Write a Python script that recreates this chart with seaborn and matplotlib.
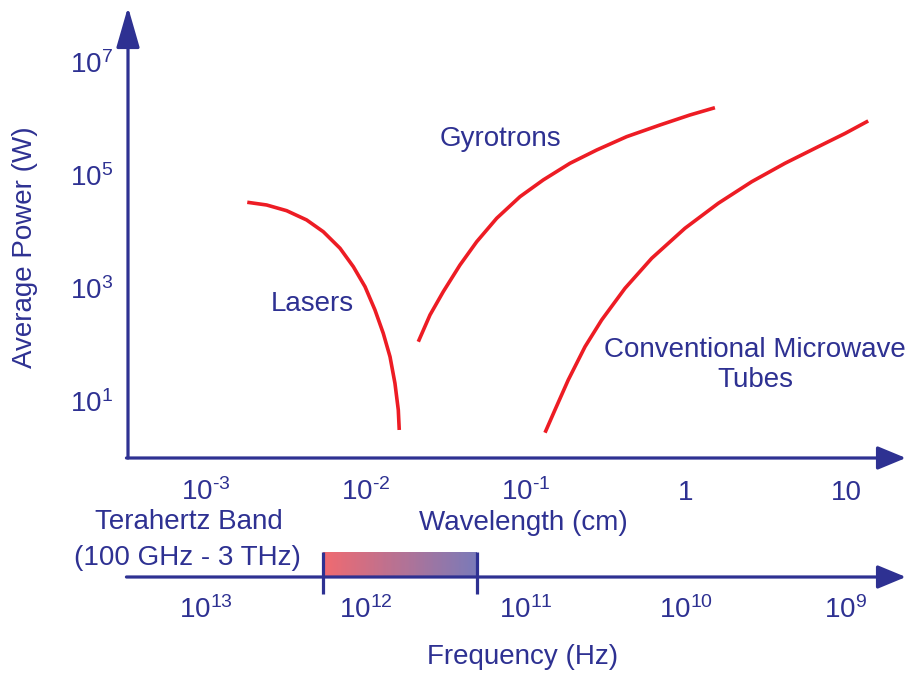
import numpy as np
import pandas as pd
import matplotlib
matplotlib.use('Agg')
import matplotlib.pyplot as plt
import seaborn as sns
from matplotlib.colors import LinearSegmentedColormap
from matplotlib.ticker import NullLocator

# curves: wavelength (cm) vs average power (W)
laser_wl = [1.811e-3, 2.393e-3, 3.192e-3, 4.256e-3, 5.408e-3, 6.88e-3, 8.337e-3,
            9.863e-3, 1.138e-2, 1.282e-2, 1.413e-2, 1.517e-2, 1.592e-2, 1.614e-2]
laser_pw = [3.289e4, 2.944e4, 2.333e4, 1.600e4, 9.91e3, 5.05e3, 2.38e3,
            1.054e3, 408, 158, 60.8, 20.6, 6.93, 3.07]

gyro_wl = [2.123e-2, 2.512e-2, 3.041e-2, 3.868e-2, 4.920e-2, 6.561e-2, 9.173e-2,
           0.1282, 0.1884, 0.2767, 0.4256, 0.6881, 1.059, 1.517]
gyro_pw = [112, 333, 861, 2.553e3, 6.59e3, 1.714e4, 4.13e4,
           8.17e4, 1.611e5, 2.767e5, 4.764e5, 7.67e5, 1.153e6, 1.552e6]

tube_wl = [0.1315, 0.1517, 0.1837, 0.2339, 0.2972, 0.4159, 0.6109,
           0.9857, 1.592, 2.576, 4.159, 6.714, 9.863, 13.77]
tube_pw = [2.748, 6.934, 23.55, 91.4, 271.6, 988.6, 3.357e3,
           1.140e4, 3.155e4, 7.603e4, 1.611e5, 3.170e5, 5.43e5, 9.04e5]

wl_ticks = [1e-3, 1e-2, 1e-1, 1, 10]
wl_labels = [r'$10^{\text{-}3}$', r'$10^{\text{-}2}$', r'$10^{\text{-}1}$', '1', '10']
pw_ticks = [1e1, 1e3, 1e5, 1e7]
pw_labels = [r'$10^{1}$', r'$10^{3}$', r'$10^{5}$', r'$10^{7}$']
freq_ticks = [1e13, 1e12, 1e11, 1e10, 1e9]
freq_labels = [r'$10^{13}$', r'$10^{12}$', r'$10^{11}$', r'$10^{10}$', r'$10^{9}$']

band_edges_hz = [1.86e12, 2.03e11]
band_colors = ['#f06a70', '#7a7ab8']

NAVY = '#2e3192'
RED = '#ed1c24'
W, H = 909, 673

sns.set_style('white')
plt.rcParams['font.family'] = ['Liberation Sans', 'DejaVu Sans']
plt.rcParams['mathtext.fontset'] = 'custom'
plt.rcParams['mathtext.rm'] = 'Liberation Sans'
plt.rcParams['mathtext.it'] = 'Liberation Sans:italic'
plt.rcParams['text.color'] = NAVY
FS = 20


def fx(px):
    return px / W


def fy(py):
    return 1 - py / H


df = pd.concat([
    pd.DataFrame({'wl': laser_wl, 'pw': laser_pw, 'src': 'Lasers'}),
    pd.DataFrame({'wl': gyro_wl, 'pw': gyro_pw, 'src': 'Gyrotrons'}),
    pd.DataFrame({'wl': tube_wl, 'pw': tube_pw, 'src': 'Tubes'}),
])

fig = plt.figure(figsize=(W / 100, H / 100), dpi=100)

# main power / wavelength axes
ax = fig.add_axes([fx(128), fy(458), fx(909) - fx(128), fy(7) - fy(458)])
ax.set_xscale('log')
ax.set_yscale('log')
sns.lineplot(data=df, x='wl', y='pw', hue='src', units='src', estimator=None,
             palette={'Lasers': RED, 'Gyrotrons': RED, 'Tubes': RED},
             lw=2.6, legend=False, ax=ax, solid_joinstyle='round', solid_capstyle='butt')
ax.set_xlim(10 ** -3.4875, 10 ** 1.394)
ax.set_ylim(10 ** -0.009, 10 ** 7.973)
for s in ax.spines.values():
    s.set_visible(False)
ax.xaxis.set_minor_locator(NullLocator())
ax.yaxis.set_minor_locator(NullLocator())
ax.set_xticks(wl_ticks)
ax.set_xticklabels(wl_labels)
ax.set_yticks(pw_ticks)
ax.set_yticklabels(pw_labels)
ax.tick_params(axis='x', length=0, pad=30, labelsize=FS, labelcolor=NAVY)
ax.tick_params(axis='y', length=0, pad=11, labelsize=FS, labelcolor=NAVY)
for t in ax.get_xticklabels():
    t.set_va('baseline')
ax.set_xlabel('')
ax.set_ylabel('')

ax.annotate('', xy=(0, 1), xytext=(0, 0), xycoords='axes fraction',
            arrowprops=dict(arrowstyle='-|>,head_length=1.25,head_width=0.36',
                            mutation_scale=20, color=NAVY, lw=2.3,
                            shrinkA=0, shrinkB=0), annotation_clip=False)
ax.annotate('', xy=(0.996, 0), xytext=(-0.002, 0), xycoords='axes fraction',
            arrowprops=dict(arrowstyle='-|>,head_length=0.87,head_width=0.36',
                            mutation_scale=20, color=NAVY, lw=2.3,
                            shrinkA=0, shrinkB=0), annotation_clip=False)

# frequency axis
fa = fig.add_axes([fx(128), fy(577), fx(909) - fx(128), fy(545) - fy(577)])
fa.set_xscale('log')
fa.set_xlim(10 ** 13.4875, 10 ** 8.606)
fa.set_ylim(0, 32)
fa.patch.set_alpha(0)
for s in fa.spines.values():
    s.set_visible(False)
fa.xaxis.set_minor_locator(NullLocator())
fa.set_xticks(freq_ticks)
fa.set_xticklabels(freq_labels)
fa.set_yticks([])
fa.tick_params(axis='x', length=0, pad=29.5, labelsize=FS, labelcolor=NAVY)
for t in fa.get_xticklabels():
    t.set_va('baseline')

cmap = LinearSegmentedColormap.from_list('thz', band_colors)
xe = np.geomspace(band_edges_hz[0], band_edges_hz[1], 121)
fa.pcolormesh(xe, [0, 25], np.linspace(0, 1, 120)[None, :], cmap=cmap,
              shading='flat', zorder=1)
fa.vlines(band_edges_hz, -17, 25, color=NAVY, lw=2.3, clip_on=False, zorder=3)
fa.annotate('', xy=(0.996, 0), xytext=(-0.002, 0), xycoords='axes fraction',
            arrowprops=dict(arrowstyle='-|>,head_length=0.87,head_width=0.36',
                            mutation_scale=20, color=NAVY, lw=2.3,
                            shrinkA=0, shrinkB=0), annotation_clip=False)

# labels
fig.text(fx(25), fy(247), 'Average Power (W)', rotation=90, ha='center', va='center', fontsize=FS)
fig.text(fx(523), fy(523), 'Wavelength (cm)', ha='center', va='center', fontsize=FS)
fig.text(fx(523), fy(657), 'Frequency (Hz)', ha='center', va='center', fontsize=FS)
fig.text(fx(189), fy(522), 'Terahertz Band', ha='center', va='center', fontsize=FS)
fig.text(fx(187), fy(558), '(100 GHz - 3 THz)', ha='center', va='center', fontsize=FS)
fig.text(fx(312), fy(304), 'Lasers', ha='center', va='center', fontsize=FS)
fig.text(fx(500), fy(139), 'Gyrotrons', ha='center', va='center', fontsize=FS)
fig.text(fx(755), fy(365), 'Conventional Microwave\nTubes', ha='center', va='center',
         multialignment='center', fontsize=FS, linespacing=1.2)

fig.savefig('out.png', dpi=100)
